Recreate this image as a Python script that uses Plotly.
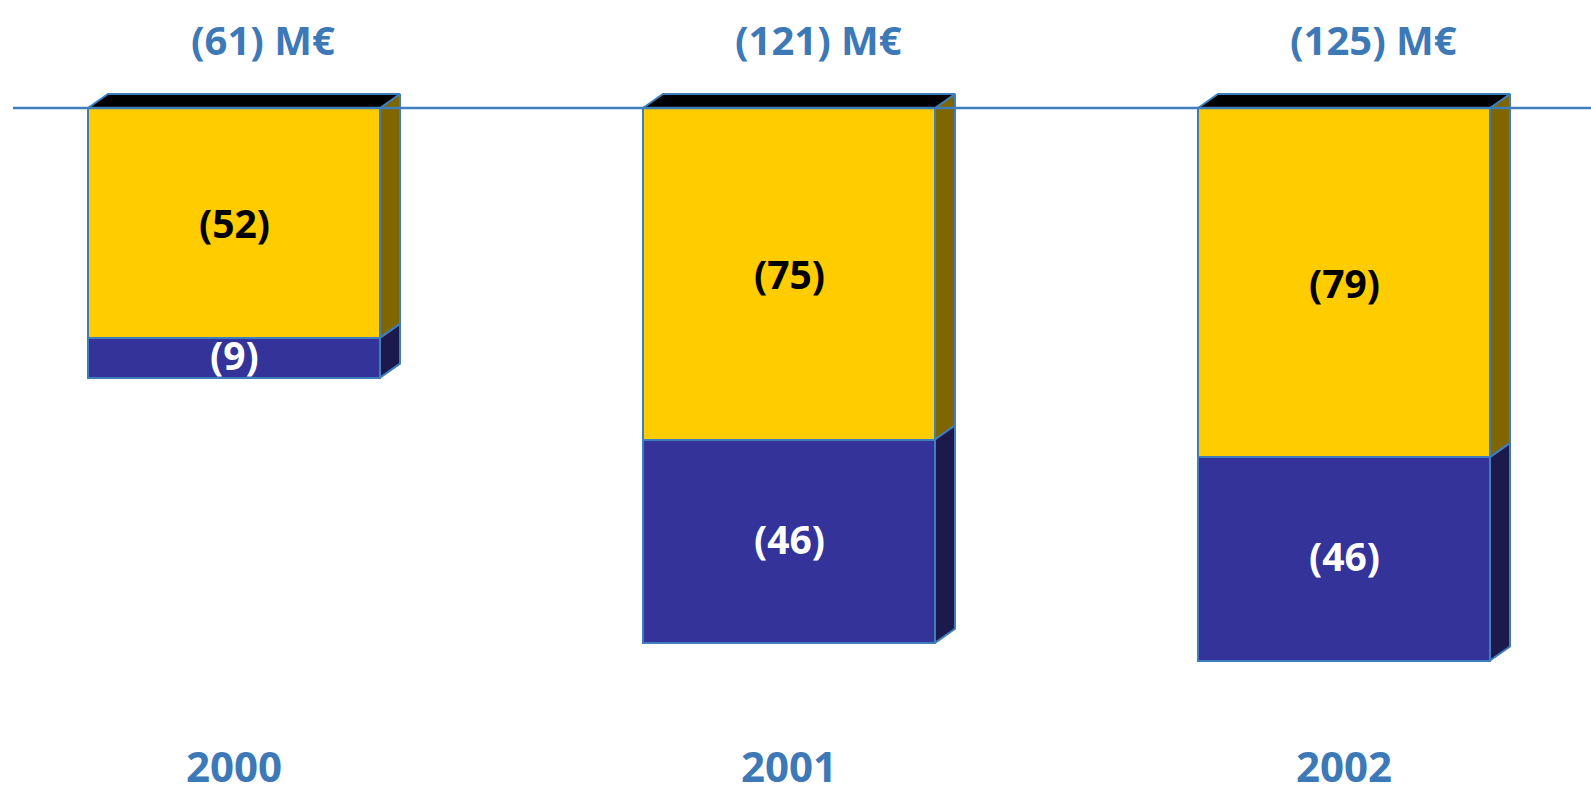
import plotly.graph_objects as go

years = ["2000", "2001", "2002"]
yellow_vals = [-52, -75, -79]
blue_vals = [-9, -46, -46]
total_labels = ["(61) M€", "(121) M€", "(125) M€"]
yellow_labels = ["(52)", "(75)", "(79)"]
blue_labels = ["(9)", "(46)", "(46)"]

W, H = 1591, 796
x_px0, x_step = 234, 555       # pixel of first category, pixels per category
y_base_px, y_scale = 108, 4.42  # pixel of zero line, pixels per unit
bar_w = 292 / x_step
dx = 20 / x_step
dy = 14 / y_scale

xr = [-x_px0 / x_step, (W - x_px0) / x_step]
yr = [-(H - y_base_px) / y_scale, y_base_px / y_scale]

YEL, YEL_SIDE = "#FFCC00", "#806600"
BLU, BLU_SIDE = "#333399", "#1C1A4D"
EDGE = "#3F7EBD"
TXT_BLUE = "#3D79B6"
FONT = "Open Sans"

xs = list(range(len(years)))
fig = go.Figure()

fig.add_trace(go.Bar(x=xs, y=yellow_vals, width=bar_w, marker=dict(color=YEL, line=dict(color=EDGE, width=2)),
                     hoverinfo="skip", showlegend=False))
fig.add_trace(go.Bar(x=xs, y=blue_vals, width=bar_w, marker=dict(color=BLU, line=dict(color=EDGE, width=2)),
                     hoverinfo="skip", showlegend=False))

def side_poly(tops, bots):
    px, py = [], []
    for i, (t, b) in enumerate(zip(tops, bots)):
        r = i + bar_w / 2
        px += [r, r + dx, r + dx, r, r, None]
        py += [t, t + dy, b + dy, b, t, None]
    return px, py

ytops = [0] * 3
ybots = yellow_vals
btops = yellow_vals
bbots = [a + b for a, b in zip(yellow_vals, blue_vals)]

px, py = side_poly(ytops, ybots)
fig.add_trace(go.Scatter(x=px, y=py, mode="lines", fill="toself", fillcolor=YEL_SIDE,
                         line=dict(color=EDGE, width=2), hoverinfo="skip", showlegend=False))
px, py = side_poly(btops, bbots)
fig.add_trace(go.Scatter(x=px, y=py, mode="lines", fill="toself", fillcolor=BLU_SIDE,
                         line=dict(color=EDGE, width=2), hoverinfo="skip", showlegend=False))

# top faces
tx, ty = [], []
for i in xs:
    l, r = i - bar_w / 2, i + bar_w / 2
    tx += [l, l + dx, r + dx, r, l, None]
    ty += [0, dy, dy, 0, 0, None]
fig.add_trace(go.Scatter(x=tx, y=ty, mode="lines", fill="toself", fillcolor="#000000",
                         line=dict(color=EDGE, width=2), hoverinfo="skip", showlegend=False))

# zero line
fig.add_shape(type="line", xref="paper", yref="y", x0=13 / W, x1=1, y0=0, y1=0,
              line=dict(color=EDGE, width=2.5), layer="above")

for i in xs:
    ymid = yellow_vals[i] / 2
    bmid = yellow_vals[i] + blue_vals[i] / 2
    fig.add_annotation(x=i, y=ymid, text=yellow_labels[i], showarrow=False,
                       font=dict(family=FONT, size=39, color="#000000", weight="bold"))
    fig.add_annotation(x=i, y=bmid, text=blue_labels[i], showarrow=False, yshift=3,
                       font=dict(family=FONT, size=39, color="#FFFFFF", weight="bold"))
    fig.add_annotation(x=i, xshift=29, y=1 - 39 / H, yref="paper", text=total_labels[i], showarrow=False,
                       yanchor="middle", font=dict(family=FONT, size=40, color=TXT_BLUE, weight="bold"))
    fig.add_annotation(x=i, y=0, yref="paper", text=years[i], showarrow=False,
                       yanchor="bottom", font=dict(family=FONT, size=42, color=TXT_BLUE, weight="bold"))

fig.update_layout(
    width=W, height=H, margin=dict(l=0, r=0, t=0, b=0),
    paper_bgcolor="white", plot_bgcolor="white", barmode="relative", bargap=0,
    xaxis=dict(range=xr, visible=False, fixedrange=True),
    yaxis=dict(range=yr, visible=False, fixedrange=True),
)

fig.write_html("out.html", config={"displayModeBar": False},
               post_script="document.body.style.margin='0';document.body.style.overflow='hidden';")
